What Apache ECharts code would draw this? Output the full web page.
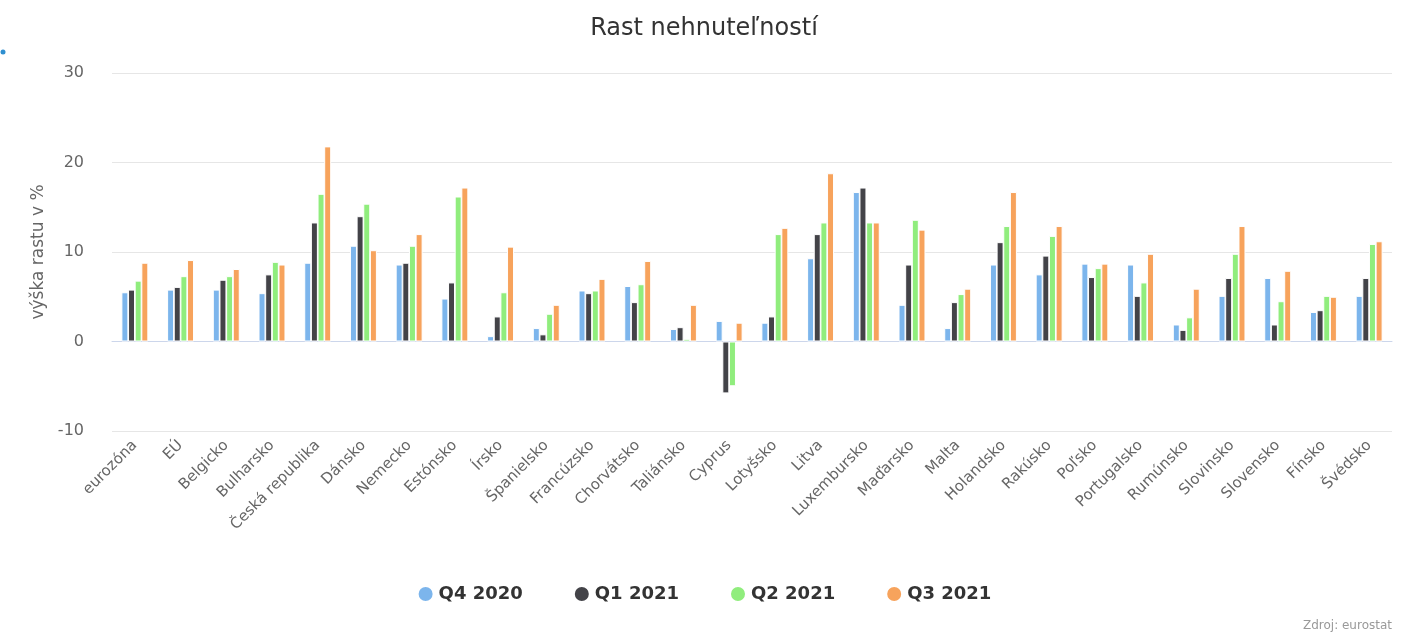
<!DOCTYPE html>
<html><head><meta charset="utf-8">
<script src="https://cdn.jsdelivr.net/npm/echarts@6/dist/echarts.min.js"></script>
<style>html,body{margin:0;padding:0;background:#fff}#c{width:1408px;height:640px}</style>
</head><body><div id="c"></div>
<script>
const categories = ["eurozóna","EÚ","Belgicko","Bulharsko","Česká republika","Dánsko","Nemecko","Estónsko","Írsko","Španielsko","Francúzsko","Chorvátsko","Taliánsko","Cyprus","Lotyšsko","Litva","Luxembursko","Maďarsko","Malta","Holandsko","Rakúsko","Poľsko","Portugalsko","Rumúnsko","Slovinsko","Slovensko","Fínsko","Švédsko"];
const q4_2020 = [5.5,5.8,5.8,5.4,8.8,10.7,8.6,4.8,0.6,1.5,5.7,6.2,1.4,2.3,2.1,9.3,16.7,4.1,1.5,8.6,7.5,8.7,8.6,1.9,5.1,7.1,3.3,5.1];
const q1_2021 = [5.8,6.1,6.9,7.5,13.3,14.0,8.8,6.6,2.8,0.8,5.4,4.4,1.6,-5.8,2.8,12.0,17.2,8.6,4.4,11.1,9.6,7.2,5.1,1.3,7.1,1.9,3.5,7.1];
const q2_2021 = [6.8,7.3,7.3,8.9,16.5,15.4,10.7,16.2,5.5,3.1,5.7,6.4,0.3,-5.0,12.0,13.3,13.3,13.6,5.3,12.9,11.8,8.2,6.6,2.7,9.8,4.5,5.1,10.9];
const q3_2021 = [8.8,9.1,8.1,8.6,21.8,10.2,12.0,17.2,10.6,4.1,7.0,9.0,4.1,2.1,12.7,18.8,13.3,12.5,5.9,16.7,12.9,8.7,9.8,5.9,12.9,7.9,5.0,11.2];
const seriesNames = ["Q4 2020","Q1 2021","Q2 2021","Q3 2021"];
const colors = ["#7cb5ec","#434348","#90ed7d","#f7a35c"];
const chart = echarts.init(document.getElementById('c'));
const font = 'Lucida Grande, DejaVu Sans, sans-serif';
chart.setOption({
  animation:false,
  color:colors,
  title:{text:'Rast nehnuteľností',left:'center',top:12,textStyle:{fontFamily:font,fontSize:24,fontWeight:'normal',color:'#333'}},
  graphic:[
    {type:'circle',shape:{cx:3,cy:52,r:2.5},style:{fill:'#2f8fd0'}},
    {type:'text',right:16,top:620,style:{text:'Zdroj: eurostat',fill:'#999',font:'12px '+font}}
  ],
  legend:{bottom:32,left:'center',icon:'circle',itemWidth:16,itemHeight:16,itemGap:50,
    textStyle:{fontFamily:font,fontSize:18,fontWeight:'bold',color:'#333'},data:seriesNames},
  grid:{left:112,right:16,top:73,bottom:209},
  xAxis:{type:'category',data:categories,
    axisLine:{lineStyle:{color:'#ccd6eb'}},axisTick:{show:false},
    axisLabel:{rotate:45,interval:0,fontFamily:font,fontSize:15,color:'#666',margin:12}},
  yAxis:{type:'value',min:-10,max:30,interval:10,
    name:'výška rastu v %',nameLocation:'middle',nameGap:62,nameTextStyle:{fontFamily:font,fontSize:17,color:'#666'},
    axisLabel:{fontFamily:font,fontSize:16,color:'#666',margin:28},
    splitLine:{lineStyle:{color:'#e6e6e6',width:1}}},
  series:[q4_2020,q1_2021,q2_2021,q3_2021].map((d,i)=>({
    name:seriesNames[i],type:'bar',data:d,barWidth:7,barGap:'-5%',
    itemStyle:{borderColor:'#fff',borderWidth:1}
  }))
});
</script></body></html>
